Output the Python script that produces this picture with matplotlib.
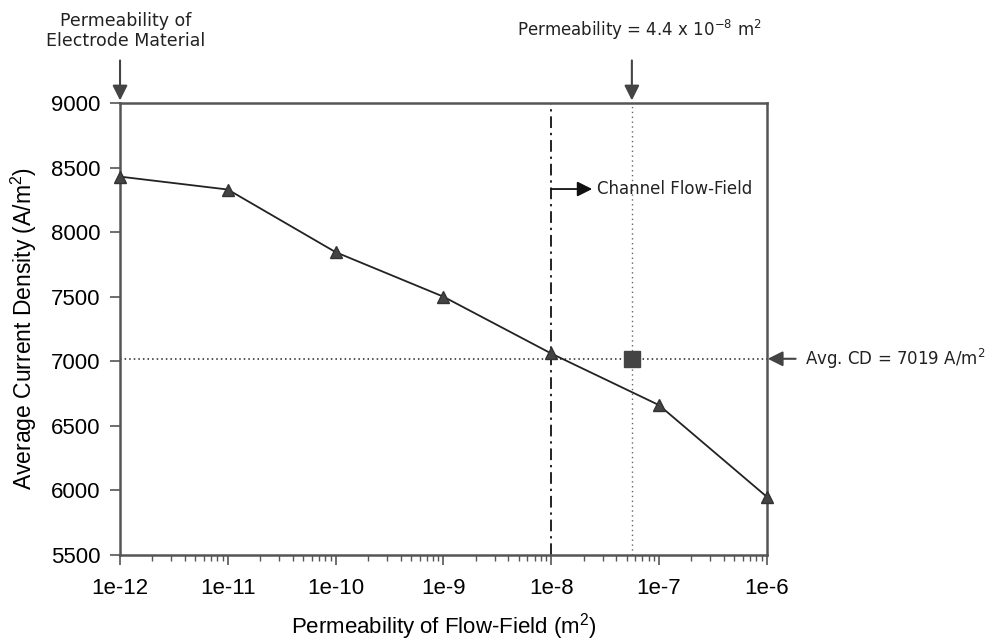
import numpy as np
import matplotlib
matplotlib.use("Agg")
import matplotlib.pyplot as plt
from matplotlib.ticker import LogLocator, NullFormatter

plt.rcParams['mathtext.default'] = 'regular'

# data
permeability = np.array([1e-12, 1e-11, 1e-10, 1e-9, 1e-8, 1e-7, 1e-6])  # m^2
current_density = np.array([8430, 8330, 7845, 7500, 7060, 6660, 5950])  # A/m^2
channel_perm = 5.6e-8
channel_cd = 7019
flowfield_limit = 1e-8
xtick_vals = [1e-12, 1e-11, 1e-10, 1e-9, 1e-8, 1e-7, 1e-6]
xtick_labels = ['1e-12', '1e-11', '1e-10', '1e-9', '1e-8', '1e-7', '1e-6']
ytick_vals = [5500, 6000, 6500, 7000, 7500, 8000, 8500, 9000]

tick_font = 'Liberation Sans'
note_font = 'DejaVu Sans'
spine_col = '#555555'

fig = plt.figure(figsize=(9.92, 6.4), dpi=100)
ax = fig.add_axes([0.121, 0.133, 0.652, 0.706])

ax.plot(permeability, current_density, color='#222222', lw=1.3,
        marker='^', ms=9, mfc='#444444', mec='#333333', zorder=3, clip_on=False)
ax.plot([channel_perm], [channel_cd], marker='s', ms=11, color='#444444',
        linestyle='none', zorder=4)

ax.axhline(channel_cd, color='#222222', lw=1.1, ls=(0, (1, 2)), zorder=2)
ax.axvline(channel_perm, color='#666666', lw=1.0, ls=(0, (1, 2.5)), zorder=2)
ax.axvline(flowfield_limit, color='#222222', lw=1.4, ls=(0, (6, 2.5, 1.2, 2.5)), zorder=2)

ax.set_xscale('log')
ax.set_xlim(1e-12, 1e-6)
ax.set_ylim(5500, 9000)
ax.set_xticks(xtick_vals)
ax.set_xticklabels(xtick_labels)
ax.xaxis.set_minor_locator(LogLocator(base=10, subs=np.arange(2, 10)))
ax.xaxis.set_minor_formatter(NullFormatter())
ax.set_yticks(ytick_vals)

for s in ax.spines.values():
    s.set_color(spine_col)
    s.set_linewidth(1.8)

ax.tick_params(axis='x', which='major', length=7, width=1.2, color=spine_col, pad=10)
ax.tick_params(axis='x', which='minor', length=4, width=1.0, color=spine_col)
ax.tick_params(axis='y', length=7, width=1.2, color=spine_col, pad=7)
for lab in ax.get_xticklabels() + ax.get_yticklabels():
    lab.set_fontfamily(tick_font)
    lab.set_fontsize(16)

ax.set_xlabel('Permeability of Flow-Field (m$^2$)', fontfamily=tick_font, fontsize=16, labelpad=8)
ax.set_ylabel('Average Current Density (A/m$^2$)', fontfamily=tick_font, fontsize=16.5, labelpad=9)

arrow_kw = dict(arrowstyle='-|>,head_length=0.9,head_width=0.45', color='#444444', lw=1.5,
                shrinkA=0, shrinkB=0)

# top-left annotation
ax.annotate('', xy=(1e-12, 9020), xytext=(1e-12, 9330),
            arrowprops=arrow_kw, annotation_clip=False)
ax.text(1.12e-12, 9560, 'Permeability of\nElectrode Material', ha='center', va='center',
        fontfamily=note_font, fontsize=12.5, linespacing=1.15, color='#222222')

# top-right annotation
ax.annotate('', xy=(channel_perm, 9020), xytext=(channel_perm, 9330),
            arrowprops=arrow_kw, annotation_clip=False)
ax.text(6.6e-8, 9565, 'Permeability = 4.4 x 10$^{-8}$ m$^2$', ha='center', va='center',
        fontfamily=note_font, fontsize=12, color='#222222')

# channel flow-field marker
ax.annotate('', xy=(2.4e-8, 8334), xytext=(flowfield_limit, 8334),
            arrowprops=dict(arrowstyle='-|>,head_length=0.9,head_width=0.45',
                            color='#111111', lw=1.3, shrinkA=0, shrinkB=0))
ax.text(2.65e-8, 8334, 'Channel Flow-Field', ha='left', va='center',
        fontfamily=note_font, fontsize=12, color='#222222')

# average current density label on the right
ax.annotate('', xy=(1.02e-6, channel_cd), xytext=(1.85e-6, channel_cd),
            arrowprops=arrow_kw, annotation_clip=False)
ax.text(2.25e-6, channel_cd, 'Avg. CD = 7019 A/m$^2$', ha='left', va='center',
        fontfamily=note_font, fontsize=12, color='#222222', clip_on=False)

fig.savefig('out.png', dpi=100)
